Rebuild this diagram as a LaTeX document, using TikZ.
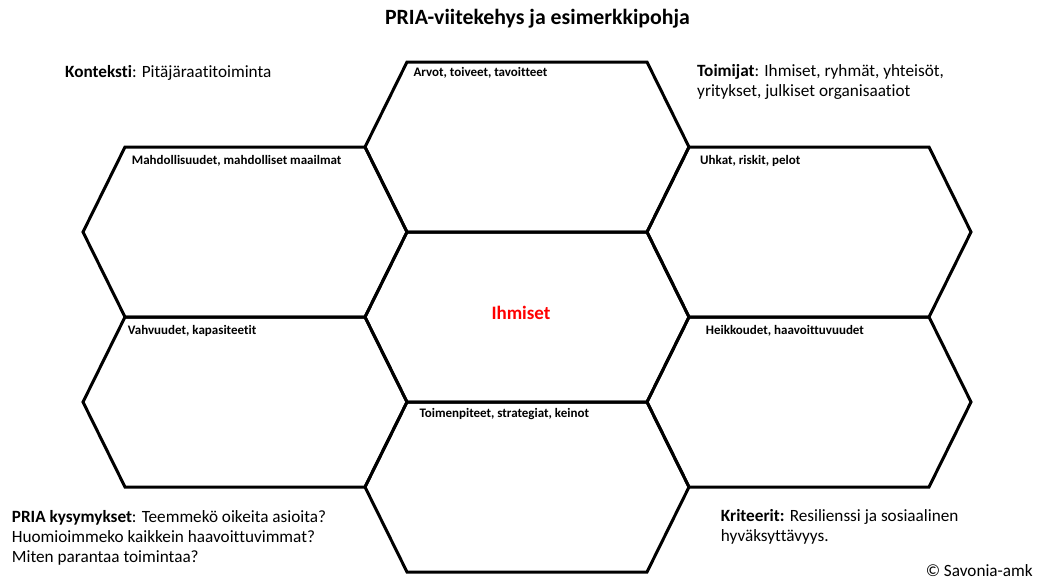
\documentclass[tikz,border=0pt]{standalone}
\usepackage{fontspec}
\setmainfont[Ligatures=NoCommon]{Carlito}
\usetikzlibrary{positioning,calc}

\tikzset{
  hexa/.style={line width=3pt, line join=miter},
  cell/.style={font=\fontsize{13}{15}\selectfont\bfseries, anchor=west, inner sep=0pt},
  note/.style={font=\fontsize{17.2}{20}\selectfont, anchor=north west, inner sep=0pt, align=left},
}

\begin{document}
\begin{tikzpicture}[x=1pt, y=-1pt, line join=round, line cap=round]
	\useasboundingbox (0,0) rectangle (1040,579);
	% centres of the cells
	\coordinate (top) at (527,147);
	\coordinate (ul) at (245,232);
	\coordinate (ur) at (809,232);
	\coordinate (mid) at (527,317);
	\coordinate (ll) at (245,402);
	\coordinate (lr) at (809,402);
	\coordinate (bot) at (527,487);
	\foreach \c in {top,ul,ur,mid,ll,lr,bot}
		\draw[hexa] (\c) ++(-120,-85) -- ++(240,0) -- ++(42,85) -- ++(-42,85) -- ++(-240,0) -- ++(-42,-85) -- cycle;
	% cell labels
	\node[cell] (arvot) at (413.3,72.7) {Arvot, toiveet, tavoitteet};
	\node[cell] (mahd) at (131.7,160.7) {Mahdollisuudet, mahdolliset maailmat};
	\node[cell] (uhkat) at (700,160.7) {Uhkat, riskit, pelot};
	\node[cell] (vahv) at (127.7,330.7) {Vahvuudet, kapasiteetit};
	\node[cell] (heikko) at (705.7,330.7) {Heikkoudet, haavoittuvuudet};
	\node[cell] (toimen) at (419.3,414) {Toimenpiteet, strategiat, keinot};
	\node[font=\fontsize{19}{22}\selectfont\bfseries, text=red, inner sep=0pt] (ihmiset) at (521,312.7) {Ihmiset};
	% texts round the grid
	\node[font=\fontsize{21.8}{26}\selectfont\bfseries, inner sep=0pt] (title) at (537.5,18.3) {PRIA-viitekehys ja esimerkkipohja};
	\node[note, anchor=west] (konteksti) at (65,73) {\textbf{Konteksti}: Pitäjäraatitoiminta};
	\node[note] (toimijat) at (697,64.2) {\textbf{Toimijat}: Ihmiset, ryhmät, yhteisöt,\\yritykset, julkiset organisaatiot};
	\node[note] (kysymykset) at (11.7,510.2) {\textbf{PRIA kysymykset}: Teemmekö oikeita asioita?\\Huomioimmeko kaikkein haavoittuvimmat?\\Miten parantaa toimintaa?};
	\node[note] (kriteerit) at (720.7,509.5) {\textbf{Kriteerit:} Resilienssi ja sosiaalinen\\hyväksyttävyys.};
	\node[note, anchor=base east] (savonia) at (1033,576) {© Savonia-amk};
\end{tikzpicture}
\end{document}
